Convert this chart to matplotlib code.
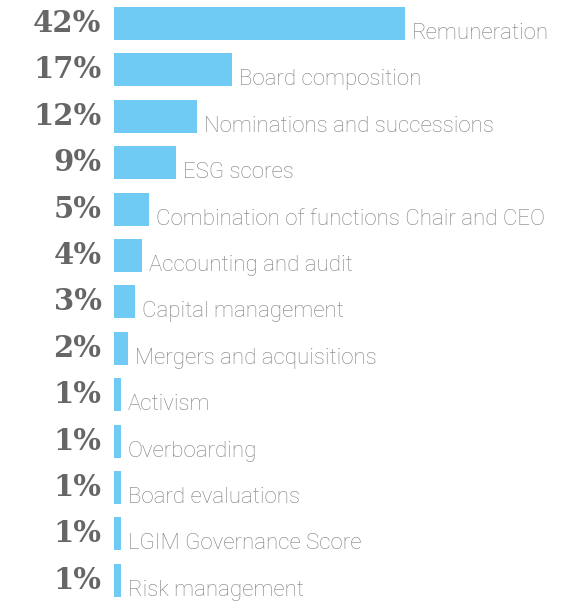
import matplotlib
matplotlib.use("Agg")
import matplotlib.pyplot as plt
from matplotlib.transforms import offset_copy

categories = [
    "Remuneration",
    "Board composition",
    "Nominations and successions",
    "ESG scores",
    "Combination of functions Chair and CEO",
    "Accounting and audit",
    "Capital management",
    "Mergers and acquisitions",
    "Activism",
    "Overboarding",
    "Board evaluations",
    "LGIM Governance Score",
    "Risk management",
]
values = [42, 17, 12, 9, 5, 4, 3, 2, 1, 1, 1, 1, 1]

W, H, DPI = 5.75, 6.01, 100
fig = plt.figure(figsize=(W, H), dpi=DPI)
ax = fig.add_axes([0, 0, 1, 1])

px_per_unit = 6.93
x0_px = 114
row_px = 46.4
first_center_px = 23.5

ax.set_xlim(-x0_px / px_per_unit, (W * DPI - x0_px) / px_per_unit)
ax.set_ylim((H * DPI - first_center_px) / row_px, -first_center_px / row_px)
ax.axis("off")

bar_color = "#6FCAF4"
ypos = list(range(len(values)))
bar_h = 0.71
ax.barh(ypos, values, height=bar_h, color=bar_color, left=0)

for y, v, name in zip(ypos, values, categories):
    # percentage on the left
    ax.text(-1.8, y, f"{v}%", ha="right", va="center",
            fontsize=21, fontweight="bold", family="DejaVu Serif",
            color="#666666")
    # category name just right of the bar end, sitting on the bar's baseline
    ax.text(v, y + bar_h / 2, name,
            transform=offset_copy(ax.transData, fig=fig, x=7, y=1, units="dots"),
            ha="left", va="baseline", fontsize=16, family="Roboto",
            fontweight="light", color="#7E7E7E")

fig.savefig("out.png", dpi=DPI)
